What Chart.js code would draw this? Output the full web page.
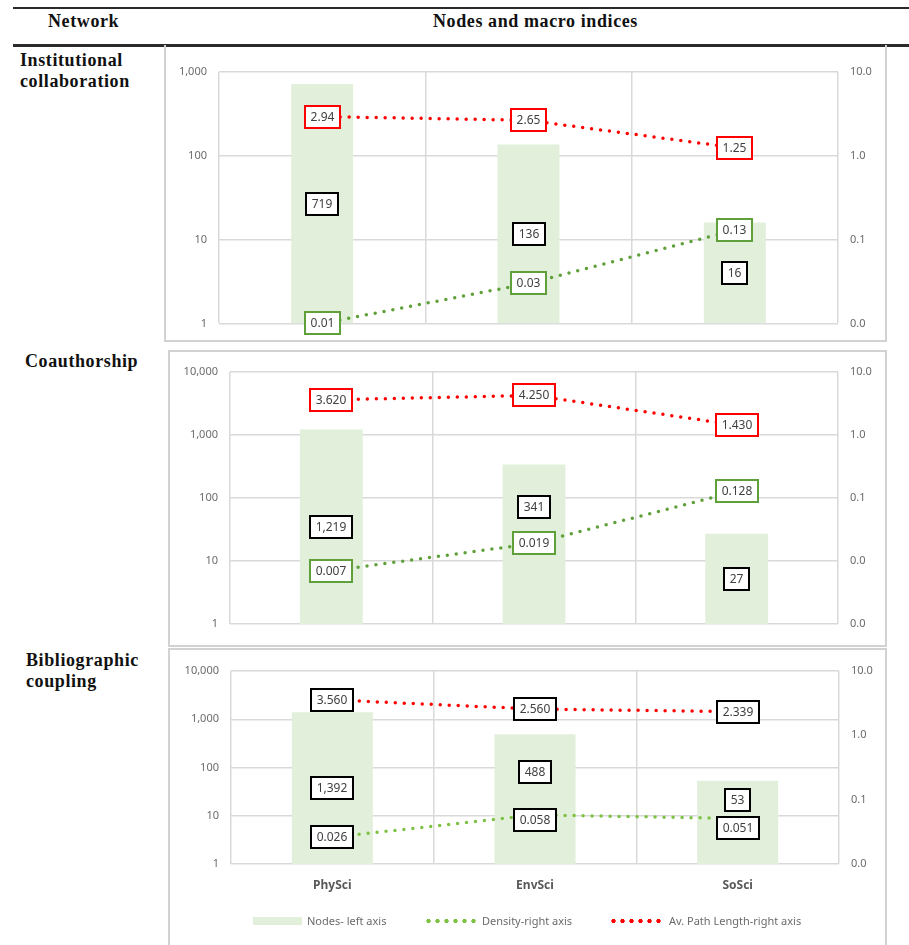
<!DOCTYPE html>
<html>
<head>
<meta charset="utf-8">
<script src="https://cdn.jsdelivr.net/npm/chart.js@4.4.1/dist/chart.umd.min.js"></script>
<style>
  body { margin: 0; background: #fff; }
  #page { position: relative; width: 909px; height: 945px; overflow: hidden; background: #fff; }
  .rule { position: absolute; left: 13px; right: 0; background: #2b2b2b; }
  .head, .rowlab { position: absolute; font-family: "Liberation Serif", "Times New Roman", serif; font-weight: bold;
                   font-size: 18px; letter-spacing: 0.6px; color: #111; white-space: nowrap; }
  .head { line-height: 18px; }
  .rowlab { line-height: 21px; }
  canvas { position: absolute; }
  .frame { position: absolute; box-sizing: border-box; border: 2px solid #d2d2d2; pointer-events: none; }
  .leg { position: absolute; font-family: "Noto Sans", sans-serif; font-size: 11px; color: #6b6b6b; line-height: 14px; white-space: nowrap; }
  .dots { position: absolute; height: 6px; background-repeat: repeat-x; background-size: 9px 6px; }
</style>
</head>
<body>
<div id="page">
  <div class="rule" style="top:7px;height:2px;"></div>
  <div class="head" style="left:48px;top:12px;">Network</div>
  <div class="head" style="left:433px;top:12px;">Nodes and macro indices</div>
  <div class="rule" style="top:44px;height:3px;"></div>

  <div class="rowlab" style="left:20px;top:50px;">Institutional<br>collaboration</div>
  <div class="rowlab" style="left:25px;top:351px;">Coauthorship</div>
  <div class="rowlab" style="left:26px;top:650px;">Bibliographic<br>coupling</div>

  <canvas id="c1" width="723" height="295" style="left:164px;top:47px;"></canvas>
  <div class="frame" style="left:164px;top:45px;width:723px;height:297px;border-top:none;"></div>

  <canvas id="c2" width="719" height="297" style="left:168px;top:350px;"></canvas>
  <div class="frame" style="left:168px;top:350px;width:719px;height:297px;"></div>

  <canvas id="c3" width="719" height="297" style="left:168px;top:648px;"></canvas>
  <div class="frame" style="left:168px;top:648px;width:719px;height:310px;"></div>

  <div style="position:absolute;left:253px;top:917px;width:49px;height:8px;background:#E2EFDA;"></div>
  <div class="leg" style="left:307px;top:914px;">Nodes- left axis</div>
  <div class="dots" style="left:424px;top:918px;width:54px;background-image:radial-gradient(circle at 4.5px 3px, #7DC242 1.9px, transparent 2.4px);"></div>
  <div class="leg" style="left:482px;top:914px;">Density-right axis</div>
  <div class="dots" style="left:609px;top:918px;width:54px;background-image:radial-gradient(circle at 4.5px 3px, #FF0000 1.9px, transparent 2.4px);"></div>
  <div class="leg" style="left:669px;top:914px;">Av. Path Length-right axis</div>
</div>

<script>
// Categories
const categories = ['PhySci', 'EnvSci', 'SoSci'];

// Institutional collaboration
const instNodes = [719, 136, 16];
const instDensity = [0.01, 0.03, 0.13];
const instPath = [2.94, 2.65, 1.25];

// Coauthorship
const coauNodes = [1219, 341, 27];
const coauDensity = [0.007, 0.019, 0.128];
const coauPath = [3.620, 4.250, 1.430];

// Bibliographic coupling
const bibNodes = [1392, 488, 53];
const bibDensity = [0.026, 0.058, 0.051];
const bibPath = [3.560, 2.560, 2.339];

// Axis ticks
const leftTicks3 = [1, 10, 100, 1000];
const leftTicks4 = [1, 10, 100, 1000, 10000];
const rightTicks3 = [0.01, 0.1, 1, 10];
const rightTicks4 = [0.001, 0.01, 0.1, 1, 10];

const TICK_FONT = { family: '"Noto Sans", sans-serif', size: 11 };
const TICK_COLOR = '#6b6b6b';
const GRID_COLOR = '#d9d9d9';

// Boxed value labels drawn on top of the datasets
const boxLabels = {
    id: 'boxLabels',
    afterDatasetsDraw(chart, args, opts) {
        const ctx = chart.ctx;
        ctx.save();
        ctx.font = '12px "Noto Sans", sans-serif';
        ctx.textAlign = 'center';
        ctx.textBaseline = 'middle';
        chart.data.datasets.forEach((ds, i) => {
            const meta = chart.getDatasetMeta(i);
            const decimals = opts.decimals[i];
            const shifts = opts.shift[i] || [];
            meta.data.forEach((el, j) => {
                const text = ds.data[j].toLocaleString('en-US', {
                    minimumFractionDigits: decimals,
                    maximumFractionDigits: decimals
                });
                let y = ds.type === 'bar' ? (el.y + el.base) / 2 : el.y;
                y += shifts[j] || 0;
                const w = Math.round(ctx.measureText(text).width + 11);
                const h = 22;
                const x0 = Math.round(el.x - w / 2), y0 = Math.round(y - h / 2);
                ctx.fillStyle = '#fff';
                ctx.fillRect(x0, y0, w, h);
                ctx.lineWidth = 2;
                ctx.strokeStyle = opts.borders[i];
                ctx.strokeRect(x0, y0, w, h);
                ctx.fillStyle = '#404040';
                ctx.fillText(text, x0 + w / 2, y0 + h / 2 + 1);
            });
        });
        ctx.restore();
    }
};

function logAxis(position, min, max, ticks, width, fmt, showGrid) {
    return {
        type: 'logarithmic',
        position: position,
        min: min,
        max: max,
        afterBuildTicks: scale => { scale.ticks = ticks.map(v => ({ value: v })); },
        afterFit: scale => { scale.width = width; },
        grid: { display: showGrid, color: GRID_COLOR, lineWidth: 1.5, drawTicks: false },
        border: { display: false },
        ticks: { font: TICK_FONT, color: TICK_COLOR, padding: 12, callback: fmt }
    };
}

const fmtLeft = v => Number(v).toLocaleString('en-US');
const fmtRight = v => Number(v).toFixed(1);

function makeChart(id, opt) {
    const dotted = color => ({
        borderColor: color,
        borderWidth: 3.5,
        borderDash: [0, 9],
        borderCapStyle: 'round',
        pointRadius: 0,
        fill: false,
        tension: 0
    });
    return new Chart(document.getElementById(id), {
        type: 'bar',
        data: {
            labels: categories,
            datasets: [
                { type: 'bar', label: 'Nodes- left axis', data: opt.nodes, yAxisID: 'y',
                  backgroundColor: '#E2EFDA', barPercentage: opt.barPct, categoryPercentage: 1, order: 2 },
                Object.assign({ type: 'line', label: 'Density-right axis', data: opt.density, yAxisID: 'y1', order: 1 },
                              dotted(opt.densityColor)),
                Object.assign({ type: 'line', label: 'Av. Path Length-right axis', data: opt.path, yAxisID: 'y1', order: 1 },
                              dotted('#FF0000'))
            ]
        },
        options: {
            responsive: false,
            animation: false,
            layout: { padding: opt.padding },
            scales: {
                x: {
                    grid: { display: true, offset: true, color: GRID_COLOR, lineWidth: 1.5, drawTicks: false },
                    border: { display: false },
                    afterFit: scale => { scale.height = opt.xHeight; },
                    ticks: {
                        display: opt.showX,
                        padding: 14,
                        color: '#595959',
                        font: { family: '"Noto Sans", sans-serif', size: 12, weight: 'bold' }
                    }
                },
                y: logAxis('left', opt.leftTicks[0], opt.leftTicks[opt.leftTicks.length - 1], opt.leftTicks, opt.leftW, fmtLeft, true),
                y1: logAxis('right', opt.rightTicks[0], opt.rightTicks[opt.rightTicks.length - 1], opt.rightTicks, opt.rightW, fmtRight, false)
            },
            plugins: {
                legend: { display: false },
                tooltip: { enabled: false },
                boxLabels: {
                    decimals: [0, opt.decimals, opt.decimals],
                    borders: opt.borders,
                    shift: opt.shift
                }
            }
        },
        plugins: [boxLabels]
    });
}

makeChart('c1', {
    nodes: instNodes, density: instDensity, path: instPath,
    leftTicks: leftTicks3, rightTicks: rightTicks3,
    leftW: 55, rightW: 49, xHeight: 0, showX: false,
    padding: { top: 25, bottom: 15, left: 0, right: 0 },
    barPct: 0.30, decimals: 2, densityColor: '#5FA03A',
    borders: ['#000000', '#5FA03A', '#FF0000'],
    shift: [[], [], []]
});

makeChart('c2', {
    nodes: coauNodes, density: coauDensity, path: coauPath,
    leftTicks: leftTicks4, rightTicks: rightTicks4,
    leftW: 62, rightW: 49, xHeight: 0, showX: false,
    padding: { top: 22, bottom: 23, left: 0, right: 0 },
    barPct: 0.31, decimals: 3, densityColor: '#5FA03A',
    borders: ['#000000', '#5FA03A', '#FF0000'],
    shift: [[0, -37, 0], [], []]
});

makeChart('c3', {
    nodes: bibNodes, density: bibDensity, path: bibPath,
    leftTicks: leftTicks4, rightTicks: rightTicks3,
    leftW: 63, rightW: 48, xHeight: 30, showX: true,
    padding: { top: 23, bottom: 51, left: 0, right: 0 },
    barPct: 0.40, decimals: 3, densityColor: '#7DC242',
    borders: ['#000000', '#000000', '#000000'],
    shift: [[0, -27, -22], [0, 5, 10], []]
});
</script>
</body>
</html>
